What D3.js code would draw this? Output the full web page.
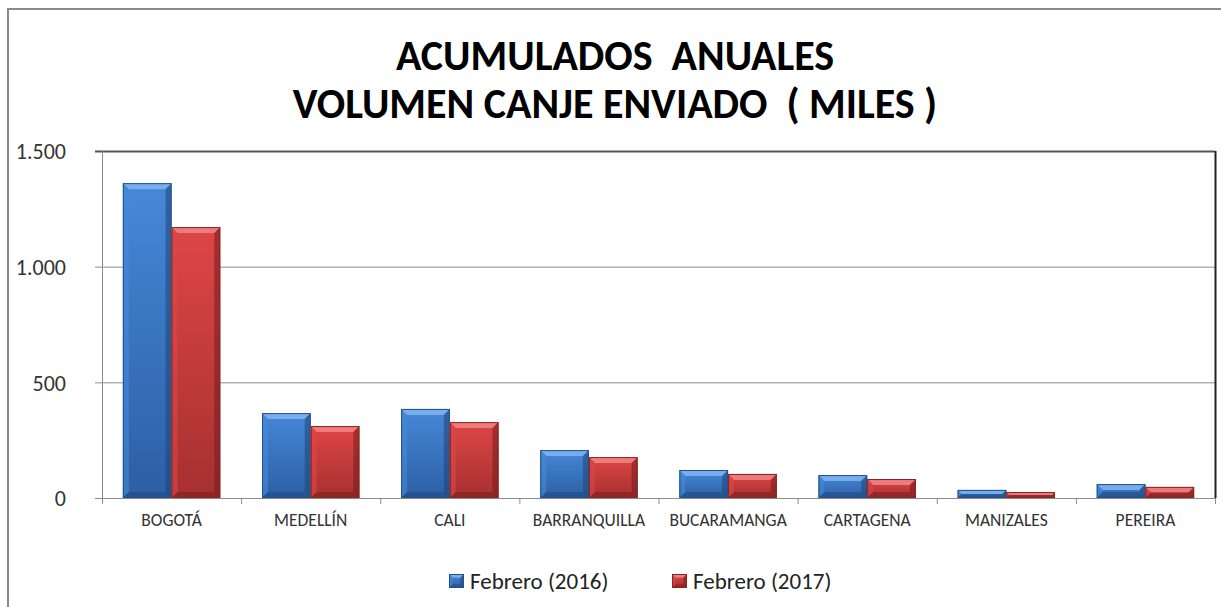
<!DOCTYPE html>
<meta charset="utf-8">
<title>Acumulados anuales</title>
<style>
body { margin: 0; background: #fff; }
svg { display: block; }
.axis .domain { display: none; }
.ylab text { font-family: Calibri, Carlito, 'Open Sans', sans-serif; font-size: 22px; fill: #333; }
.xlab text { font-family: Calibri, Carlito, 'Liberation Sans Narrow', sans-serif; font-size: 17.5px; fill: #333; }
</style>
<body>
<svg width="1221" height="607"></svg>
<script src="https://d3js.org/d3.v7.min.js"></script>
<script>
// data (miles)
var ciudades = ["BOGOTÁ", "MEDELLÍN", "CALI", "BARRANQUILLA", "BUCARAMANGA", "CARTAGENA", "MANIZALES", "PEREIRA"];
var feb2016 = [1361, 367, 385, 207, 121, 99, 35, 60];
var feb2017 = [1171, 311, 328, 177, 104, 82, 26, 48];
var series = ["Febrero (2016)", "Febrero (2017)"];
var yTicks = [0, 500, 1000, 1500];

var svg = d3.select("svg");

var x = d3.scaleBand().domain(ciudades).range([102, 1215]).paddingInner(0.3).paddingOuter(0.15);
var xs = d3.scaleBand().domain(series).range([0, x.bandwidth()]);
var y = d3.scaleLinear().domain([0, 1500]).range([498, 151]);

// colours per series
var pal = {
  "Febrero (2016)": { top: "#4688d8", bot: "#2c5fa4", edge: "#24508a", light: "#7db2ef", dark: "#1d4578" },
  "Febrero (2017)": { top: "#de4646", bot: "#a63030", edge: "#862626", light: "#f08282", dark: "#761c1c" }
};

var defs = svg.append("defs");
series.forEach(function(s, i) {
  var g = defs.append("linearGradient").attr("id", "grad" + i)
    .attr("x1", 0).attr("y1", 0).attr("x2", 0).attr("y2", 1);
  g.append("stop").attr("offset", "0%").attr("stop-color", pal[s].top);
  g.append("stop").attr("offset", "100%").attr("stop-color", pal[s].bot);
});

// outer chart border
svg.append("rect")
  .attr("x", 8).attr("y", 9).attr("width", 1240).attr("height", 620)
  .attr("fill", "#fff").attr("stroke", "#8a8a8a").attr("stroke-width", 2);

// title
var title = svg.append("text")
  .attr("text-anchor", "middle")
  .attr("font-family", "Calibri, Carlito, 'Liberation Sans Narrow', sans-serif")
  .attr("font-weight", "bold")
  .attr("font-size", 42)
  .attr("fill", "#000");
title.append("tspan").attr("x", 615).attr("y", 70).attr("xml:space", "preserve").text("ACUMULADOS  ANUALES");
title.append("tspan").attr("x", 615).attr("y", 118).attr("xml:space", "preserve").text("VOLUMEN CANJE ENVIADO  ( MILES )");

// gridlines
svg.append("g").selectAll("line").data(yTicks.slice(1)).enter().append("line")
  .attr("x1", 95).attr("x2", 1215)
  .attr("y1", function(d) { return y(d) + 0.5; })
  .attr("y2", function(d) { return y(d) + 0.5; })
  .attr("stroke", function(d) { return d === 1500 ? "#555" : "#8c8c8c"; })
  .attr("stroke-width", function(d) { return d === 1500 ? 2 : 1; });

// right plot border
svg.append("line")
  .attr("x1", 1215.5).attr("x2", 1215.5).attr("y1", y(1500)).attr("y2", y(0))
  .attr("stroke", "#222").attr("stroke-width", 2);

// y axis
svg.append("line").attr("x1", 102.5).attr("x2", 102.5).attr("y1", y(1500)).attr("y2", y(0) + 6)
  .attr("stroke", "#8c8c8c");
svg.append("line").attr("x1", 95).attr("x2", 1215).attr("y1", y(0) + 0.5).attr("y2", y(0) + 0.5)
  .attr("stroke", "#8c8c8c");

svg.append("g").attr("class", "axis ylab")
  .attr("transform", "translate(102,0)")
  .call(d3.axisLeft(y).tickValues(yTicks).tickSize(0).tickPadding(36)
    .tickFormat(function(d) { return d3.format(",")(d).replace(",", "."); }))
  .selectAll("text").attr("dy", "0.35em");

// x tick marks between categories
svg.append("g").selectAll("line").data(d3.range(ciudades.length + 1)).enter().append("line")
  .attr("x1", function(i) { return 102.5 + i * (1113 / ciudades.length); })
  .attr("x2", function(i) { return 102.5 + i * (1113 / ciudades.length); })
  .attr("y1", y(0)).attr("y2", y(0) + 6)
  .attr("stroke", "#8c8c8c");

svg.append("g").attr("class", "axis xlab")
  .attr("transform", "translate(0," + y(0) + ")")
  .call(d3.axisBottom(x).tickSize(0).tickPadding(16))
  .selectAll("text").attr("dy", "0.71em");

// bevelled bar
function bevelBar(g, bx, by, bw, bh, s, i) {
  var c = pal[s];
  var b = Math.min(6, bh / 2, bw / 4);
  g.append("rect").attr("x", bx).attr("y", by).attr("width", bw).attr("height", bh)
    .attr("fill", "url(#grad" + i + ")");
  // top bevel
  g.append("polygon")
    .attr("points", [[bx, by], [bx + bw, by], [bx + bw - b, by + b], [bx + b, by + b]].join(" "))
    .attr("fill", c.light).attr("opacity", 0.9);
  // left bevel
  g.append("polygon")
    .attr("points", [[bx, by], [bx + b, by + b], [bx + b, by + bh - b], [bx, by + bh]].join(" "))
    .attr("fill", c.top).attr("opacity", 0.6);
  // right bevel
  g.append("polygon")
    .attr("points", [[bx + bw, by], [bx + bw - b, by + b], [bx + bw - b, by + bh - b], [bx + bw, by + bh]].join(" "))
    .attr("fill", c.dark).attr("opacity", 0.55);
  // bottom bevel
  g.append("polygon")
    .attr("points", [[bx, by + bh], [bx + b, by + bh - b], [bx + bw - b, by + bh - b], [bx + bw, by + bh]].join(" "))
    .attr("fill", c.dark).attr("opacity", 0.5);
  g.append("rect").attr("x", bx + 0.5).attr("y", by + 0.5).attr("width", bw - 1).attr("height", Math.max(0, bh - 1))
    .attr("fill", "none").attr("stroke", c.edge).attr("stroke-width", 1);
}

var bars = svg.append("g");
ciudades.forEach(function(c, k) {
  [feb2016[k], feb2017[k]].forEach(function(v, i) {
    var s = series[i];
    var bx = x(c) + xs(s);
    bevelBar(bars, bx, y(v), xs.bandwidth(), y(0) - y(v), s, i);
  });
});

// legend
var leg = svg.append("g").attr("font-family", "Calibri, Carlito, 'Open Sans', sans-serif")
  .attr("font-size", 23).attr("fill", "#222");
var legX = [449, 672];
series.forEach(function(s, i) {
  bevelBar(leg, legX[i], 574, 15, 14, s, i);
  leg.append("text").attr("x", legX[i] + 21).attr("y", 589).text(s);
});
</script>
</body>
